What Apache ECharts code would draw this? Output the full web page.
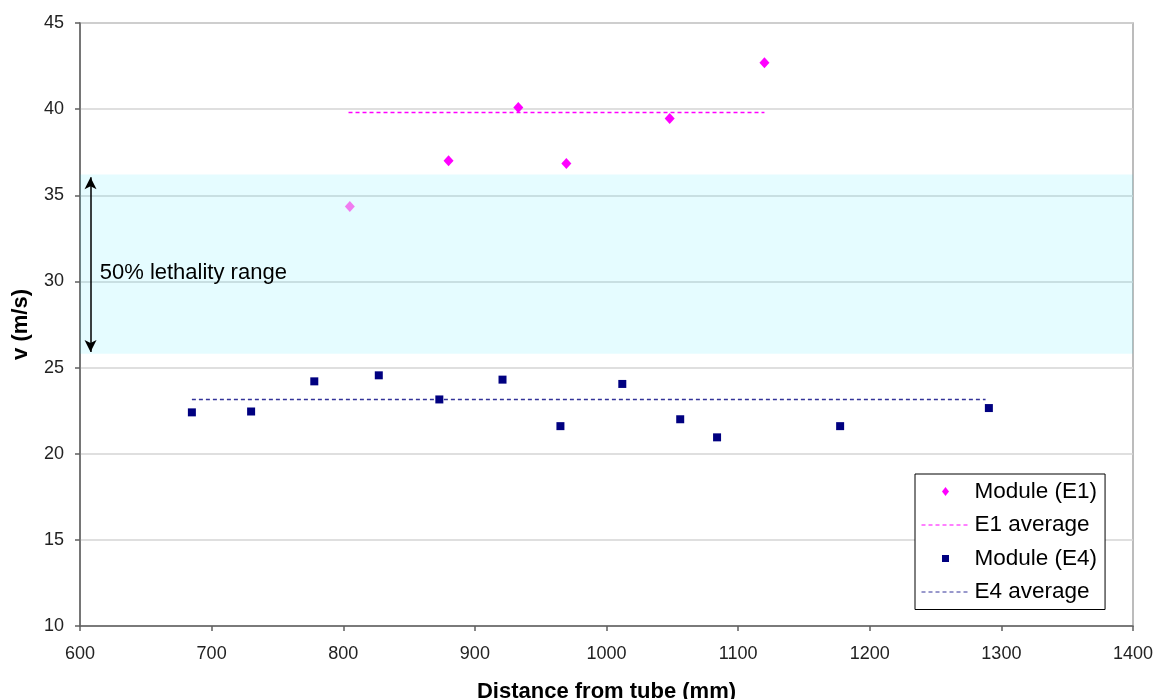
<!DOCTYPE html>
<html>
<head>
<meta charset="utf-8">
<script src="https://cdn.jsdelivr.net/npm/echarts@6/dist/echarts.min.js"></script>
<style>
  html, body { margin: 0; padding: 0; background: #ffffff; }
  #chart { width: 1158px; height: 699px; }
</style>
</head>
<body>
<div id="chart"></div>
<script>
// Impact velocity measurements versus distance from the tube
const e1Distance = [805, 880, 933, 969.5, 1048, 1120];
const e1Velocity = [34.35, 37.0, 40.1, 36.85, 39.45, 42.7];

const e4Distance = [685, 730, 778, 827, 873, 921, 965, 1012, 1056, 1084, 1177.5, 1290.5];
const e4Velocity = [22.4, 22.45, 24.2, 24.55, 23.15, 24.3, 21.6, 24.05, 22.0, 20.95, 21.6, 22.65];

// Average lines: start/end distance and level
const e1AvgSpan = [804, 1120];
const e1AvgLevel = 39.8;
const e4AvgSpan = [685, 1288];
const e4AvgLevel = 23.15;

// 50% lethality velocity band
const lethalityBand = [25.8, 36.2];
const arrowDistance = 608;
const arrowEnds = [36.05, 25.9];
const bandLabel = '50% lethality range';
const bandLabelPos = [615, 30.5];

// Axis ranges and tick steps
const xRange = [600, 1400];
const xStep = 100;
const yRange = [10, 45];
const yStep = 5;

const FONT = '"Liberation Sans", Arial, Helvetica, sans-serif';

// Small legend glyphs centred in the 48x14 legend icon box
const legendDiamond = 'path://M0,0 M48,14 M24,2.5 L27.5,7 L24,11.5 L20.5,7 Z';
const legendSquare = 'path://M0,0 M48,14 M20.5,3.5 L27.5,3.5 L27.5,10.5 L20.5,10.5 Z';

const chart = echarts.init(document.getElementById('chart'), null, { renderer: 'canvas' });

const e1Points = e1Distance.map((x, i) => {
  const p = { value: [x, e1Velocity[i]] };
  if (i === 0) p.itemStyle = { color: '#f07cf0' };
  return p;
});
const e4Points = e4Distance.map((x, i) => [x, e4Velocity[i]]);

chart.setOption({
  animation: false,
  backgroundColor: '#ffffff',
  textStyle: { fontFamily: FONT },
  grid: {
    left: 80, right: 25, top: 23, bottom: 73,
    outerBoundsMode: 'none',
    containLabel: false,
    show: true,
    backgroundColor: '#ffffff',
    borderColor: '#a6a6a6',
    borderWidth: 1.5
  },
  legend: {
    orient: 'vertical',
    left: 915, top: 474,
    padding: [6, 8, 6, 6],
    itemWidth: 48, itemHeight: 14, itemGap: 10.5,
    symbolKeepAspect: true,
    borderColor: '#000000', borderWidth: 1,
    backgroundColor: '#ffffff',
    textStyle: { fontFamily: FONT, fontSize: 22.5, color: '#000000', lineHeight: 22 },
    data: [
      { name: 'Module (E1)', icon: legendDiamond },
      { name: 'E1 average', itemStyle: { opacity: 0 }, lineStyle: { width: 1 } },
      { name: 'Module (E4)', icon: legendSquare },
      { name: 'E4 average', itemStyle: { opacity: 0 }, lineStyle: { width: 1 } }
    ]
  },
  xAxis: {
    type: 'value',
    min: xRange[0], max: xRange[1], interval: xStep,
    name: 'Distance from tube (mm)',
    nameLocation: 'middle',
    nameGap: 55,
    nameTextStyle: { fontFamily: FONT, fontSize: 22, fontWeight: 'bold', color: '#000000' },
    axisLine: { show: true, onZero: false, lineStyle: { color: '#5f5f5f', width: 1.5 } },
    axisTick: { show: true, length: 5, lineStyle: { color: '#5f5f5f', width: 1.5 } },
    axisLabel: {
      fontFamily: FONT, fontSize: 18, color: '#222222', margin: 19,
      formatter: v => String(v)
    },
    splitLine: { show: false }
  },
  yAxis: {
    type: 'value',
    min: yRange[0], max: yRange[1], interval: yStep,
    name: 'v (m/s)',
    nameLocation: 'middle',
    nameGap: 48,
    nameRotate: 90,
    nameTextStyle: { fontFamily: FONT, fontSize: 22, fontWeight: 'bold', color: '#000000' },
    axisLine: { show: true, onZero: false, lineStyle: { color: '#5f5f5f', width: 1.5 } },
    axisTick: { show: true, length: 5, lineStyle: { color: '#5f5f5f', width: 1.5 } },
    axisLabel: {
      fontFamily: FONT, fontSize: 18, color: '#222222', margin: 16,
      formatter: v => String(v)
    },
    splitLine: { show: true, lineStyle: { color: '#d4d4d4', width: 1.5 } }
  },
  series: [
    {
      // lethality band, arrow and its caption
      name: 'band',
      type: 'line',
      data: [],
      silent: true,
      markArea: {
        silent: true,
        itemStyle: { color: 'rgba(0, 228, 255, 0.1)' },
        data: [[{ coord: [xRange[0], lethalityBand[0]] }, { coord: [xRange[1], lethalityBand[1]] }]]
      },
      markLine: {
        silent: true,
        symbol: ['arrow', 'arrow'],
        symbolSize: [9, 12],
        lineStyle: { color: '#000000', width: 1.5, type: 'solid' },
        label: { show: false },
        data: [[{ coord: [arrowDistance, arrowEnds[0]] }, { coord: [arrowDistance, arrowEnds[1]] }]]
      },
      markPoint: {
        silent: true,
        symbol: 'circle',
        symbolSize: 0,
        label: {
          show: true,
          position: 'right',
          distance: 0,
          formatter: bandLabel,
          fontFamily: FONT, fontSize: 22, color: '#000000'
        },
        data: [{ coord: bandLabelPos }]
      }
    },
    {
      name: 'E1 average',
      type: 'line',
      symbol: 'none',
      lineStyle: { color: '#ff00ff', width: 1.5, type: [4, 3] },
      itemStyle: { color: '#ff00ff' },
      data: e1AvgSpan.map(x => [x, e1AvgLevel]),
      z: 3
    },
    {
      name: 'E4 average',
      type: 'line',
      symbol: 'none',
      lineStyle: { color: '#333399', width: 1.5, type: [4, 3] },
      itemStyle: { color: '#333399' },
      data: e4AvgSpan.map(x => [x, e4AvgLevel]),
      z: 3
    },
    {
      name: 'Module (E1)',
      type: 'scatter',
      symbol: 'diamond',
      symbolSize: [10, 11],
      itemStyle: { color: '#ff00ff', opacity: 1 },
      data: e1Points,
      z: 4
    },
    {
      name: 'Module (E4)',
      type: 'scatter',
      symbol: 'rect',
      symbolSize: 8,
      itemStyle: { color: '#000080', opacity: 1 },
      data: e4Points,
      z: 4
    }
  ]
});
</script>
</body>
</html>
